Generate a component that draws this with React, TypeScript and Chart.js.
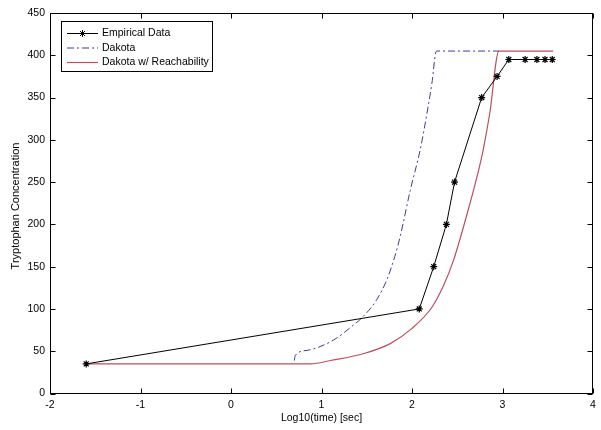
import React, { useEffect, useRef } from "react";
import { Chart, registerables } from "chart.js";

Chart.register(...registerables);

// ---- data ----
const empiricalX = [-1.6, 2.08, 2.24, 2.38, 2.47, 2.77, 2.94, 3.07, 3.25, 3.38, 3.47, 3.55];
const empiricalY = [35, 100, 150, 200, 250, 350, 375, 395, 395, 395, 395, 395];

const dakotaX = [0.7, 0.71, 0.84, 1.13, 1.33, 1.46, 1.61, 1.72, 1.81, 1.87, 1.98, 2.09, 2.16, 2.22, 2.27, 2.96];
const dakotaY = [39, 45, 51, 63, 79, 91, 111, 134, 162, 186, 240, 288, 328, 367, 405, 405];

const reachX = [-1.6, 0.88, 1.1, 1.46, 1.76, 2.0, 2.22, 2.35, 2.46, 2.6, 2.72, 2.79, 2.86, 2.96, 3.56];
const reachY = [35, 35, 39, 47, 59, 77, 102, 128, 158, 209, 257, 290, 332, 405, 405];

const seriesNames = ["Empirical Data", "Dakota", "Dakota w/ Reachability"];
const xTitle = "Log10(time) [sec]";
const yTitle = "Tryptophan Concentration";
const xMin = -2, xMax = 4, xStep = 1;
const yMin = 0, yMax = 450, yStep = 50;

const FONT = "'Liberation Sans', Arial, sans-serif";
const BLUE = "#3c3c96";
const RED = "#b9505f";

const toPts = (xs: number[], ys: number[]) => xs.map((x, i) => ({ x, y: ys[i] }));

const framePlugin = {
  id: "frame",
  afterDraw(chart: any) {
    const ctx = chart.ctx as CanvasRenderingContext2D;
    const { left, right, top, bottom } = chart.chartArea;
    const xs = chart.scales.x;
    const ys = chart.scales.y;
    ctx.save();
    ctx.strokeStyle = "#000";
    ctx.lineWidth = 1;
    const L = Math.round(left) + 0.5, R = Math.round(right) - 0.5;
    const T = Math.round(top) + 0.5, B = Math.round(bottom) - 0.5;
    ctx.strokeRect(L, T, R - L, B - T);
    const tl = 5;
    ctx.beginPath();
    for (let v = xMin; v <= xMax; v += xStep) {
      const px = Math.round(xs.getPixelForValue(v)) + 0.5;
      ctx.moveTo(px, B); ctx.lineTo(px, B - tl);
      ctx.moveTo(px, T); ctx.lineTo(px, T + tl);
    }
    for (let v = yMin; v <= yMax; v += yStep) {
      const py = Math.round(ys.getPixelForValue(v)) + 0.5;
      ctx.moveTo(L, py); ctx.lineTo(L + tl, py);
      ctx.moveTo(R, py); ctx.lineTo(R - tl, py);
    }
    ctx.stroke();

    // titles
    ctx.fillStyle = "#000";
    ctx.font = `10.5px ${FONT}`;
    ctx.textAlign = "center";
    ctx.textBaseline = "middle";
    ctx.fillText(xTitle, (left + right) / 2, 418.5);
    ctx.save();
    ctx.translate(15.5, 206);
    ctx.rotate(-Math.PI / 2);
    ctx.font = `11px ${FONT}`;
    ctx.fillText(yTitle, 0, 0);
    ctx.restore();

    // legend
    const bx = 61.5, by = 21.5, bw = 151, bh = 50;
    ctx.fillStyle = "#fff";
    ctx.fillRect(bx, by, bw, bh);
    ctx.strokeStyle = "#000";
    ctx.strokeRect(bx, by, bw, bh);
    const rows = [33, 47.5, 62];
    const x0 = 67, x1 = 98;
    // row 1
    ctx.beginPath();
    ctx.moveTo(x0, rows[0] + 0.5); ctx.lineTo(x1, rows[0] + 0.5);
    ctx.stroke();
    const cx = (x0 + x1) / 2, cy = rows[0] + 0.5, r = 3.5;
    ctx.beginPath();
    ctx.moveTo(cx - r, cy); ctx.lineTo(cx + r, cy);
    ctx.moveTo(cx, cy - r); ctx.lineTo(cx, cy + r);
    const d = r * 0.707;
    ctx.moveTo(cx - d, cy - d); ctx.lineTo(cx + d, cy + d);
    ctx.moveTo(cx - d, cy + d); ctx.lineTo(cx + d, cy - d);
    ctx.stroke();
    // row 2
    ctx.strokeStyle = BLUE;
    ctx.setLineDash([7, 3, 2, 3]);
    ctx.beginPath();
    ctx.moveTo(x0, rows[1] + 0.5); ctx.lineTo(x1, rows[1] + 0.5);
    ctx.stroke();
    ctx.setLineDash([]);
    // row 3
    ctx.strokeStyle = RED;
    ctx.lineWidth = 1.2;
    ctx.beginPath();
    ctx.moveTo(x0, rows[2] + 0.5); ctx.lineTo(x1, rows[2] + 0.5);
    ctx.stroke();
    ctx.fillStyle = "#000";
    ctx.textAlign = "left";
    ctx.textBaseline = "middle";
    seriesNames.forEach((n, i) => ctx.fillText(n, 102, rows[i] + 0.5));
    ctx.restore();
  },
};

export default function App() {
  const ref = useRef<HTMLCanvasElement | null>(null);
  useEffect(() => {
    if (!ref.current) return;
    const chart = new Chart(ref.current, {
      type: "line",
      data: {
        datasets: [
          {
            label: seriesNames[0],
            data: toPts(empiricalX, empiricalY),
            borderColor: "#000",
            backgroundColor: "#000",
            borderWidth: 1,
            pointStyle: "star",
            pointRadius: 3.5,
            pointBorderWidth: 1.2,
            pointBorderColor: "#000",
            tension: 0,
          },
          {
            label: seriesNames[1],
            data: toPts(dakotaX, dakotaY),
            borderColor: BLUE,
            borderWidth: 1,
            borderDash: [7, 3, 2, 3],
            pointRadius: 0,
            cubicInterpolationMode: "monotone",
          },
          {
            label: seriesNames[2],
            data: toPts(reachX, reachY),
            borderColor: RED,
            borderWidth: 1.2,
            pointRadius: 0,
            cubicInterpolationMode: "monotone",
          },
        ],
      },
      options: {
        responsive: false,
        animation: false,
        devicePixelRatio: 1,
        layout: { padding: { left: 0, right: 8, top: 13, bottom: 0 } },
        plugins: { legend: { display: false }, tooltip: { enabled: false } },
        scales: {
          x: {
            type: "linear",
            min: xMin,
            max: xMax,
            ticks: {
              stepSize: xStep,
              color: "#000",
              font: { family: FONT, size: 10.5 },
              padding: 5,
              maxRotation: 0,
            },
            grid: { display: false, drawTicks: false },
            border: { display: false },
            afterFit: (s: any) => { s.height = 36.5; },
          },
          y: {
            type: "linear",
            min: yMin,
            max: yMax,
            ticks: {
              stepSize: yStep,
              color: "#000",
              font: { family: FONT, size: 10.5 },
              padding: 5,
            },
            grid: { display: false, drawTicks: false },
            border: { display: false },
            afterFit: (s: any) => { s.width = 50; },
          },
        },
      },
      plugins: [framePlugin],
    } as any);
    return () => chart.destroy();
  }, []);
  return (
    <div style={{ position: "absolute", left: 0, top: 0, width: 601, height: 430, background: "#fff" }}>
      <canvas ref={ref} width={601} height={430} />
    </div>
  );
}
